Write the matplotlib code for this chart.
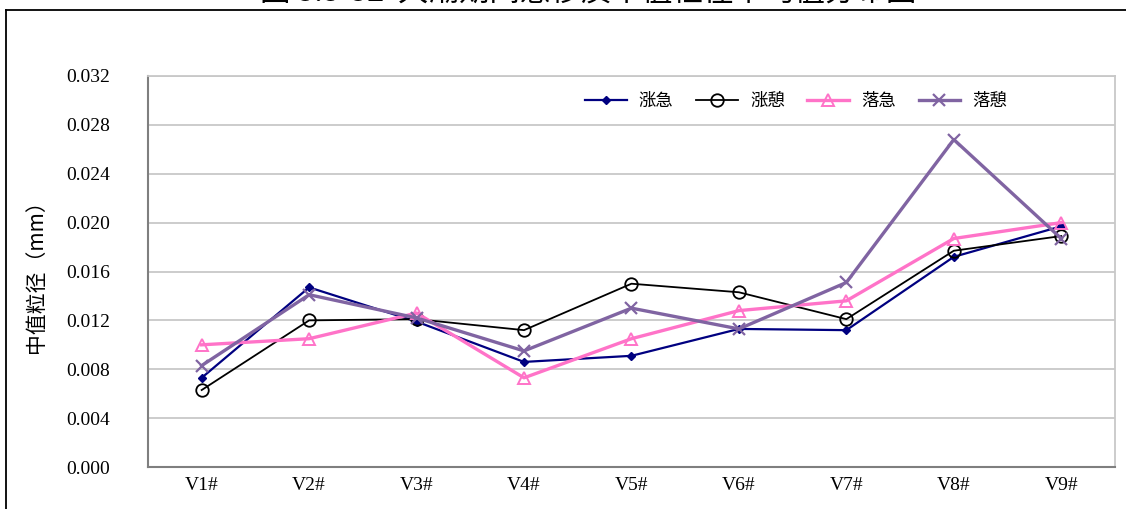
import matplotlib
matplotlib.use('Agg')
import matplotlib.pyplot as plt
from matplotlib.lines import Line2D
from matplotlib.ticker import FuncFormatter

plt.rcParams['font.family'] = ['Noto Sans CJK SC', 'DejaVu Sans']

# Stations and median grain size (mm) for each tide phase
stations = ['V1#', 'V2#', 'V3#', 'V4#', 'V5#', 'V6#', 'V7#', 'V8#', 'V9#']
flood_max = [0.0073, 0.0147, 0.0119, 0.0086, 0.0091, 0.0113, 0.0112, 0.0172, 0.0197]
flood_slack = [0.0063, 0.0120, 0.0121, 0.0112, 0.0150, 0.0143, 0.0121, 0.0177, 0.0189]
ebb_max = [0.0100, 0.0105, 0.0126, 0.0073, 0.0105, 0.0128, 0.0136, 0.0187, 0.0200]
ebb_slack = [0.0083, 0.0141, 0.0122, 0.0095, 0.0130, 0.0113, 0.0151, 0.0268, 0.0187]

series_names = ['涨急', '涨憩', '落急', '落憩']
title_text = '图 3.3-32  大潮期间悬移质中值粒径平均值分布图'
y_label = '中值粒径（mm）'
y_ticks = [0.000, 0.004, 0.008, 0.012, 0.016, 0.020, 0.024, 0.028, 0.032]

serif = ['Liberation Serif', 'DejaVu Serif']

fig = plt.figure(figsize=(11.26, 5.09), dpi=100)
ax = fig.add_axes([0.1314, 0.0825, 0.8588, 0.7682])

x = range(len(stations))
ax.plot(x, flood_max, color='#000080', lw=1.6, marker='D', ms=4.5,
        mfc='#000080', mec='#000080', label=series_names[0], zorder=3)
ax.plot(x, flood_slack, color='black', lw=1.3, marker='o', ms=9,
        mfc='none', mec='black', mew=1.3, label=series_names[1], zorder=3)
ax.plot(x, ebb_max, color='#FF73C8', lw=2.4, marker='^', ms=9,
        mfc='none', mec='#FF73C8', mew=1.4, label=series_names[2], zorder=3)
ax.plot(x, ebb_slack, color='#8064A2', lw=2.4, marker='x', ms=9,
        mec='#8064A2', mew=1.6, label=series_names[3], zorder=3)

ax.set_xlim(-0.5, len(stations) - 0.5)
ax.set_ylim(0, 0.032)
ax.set_xticks(list(x))
ax.set_xticklabels(stations, fontfamily=serif, fontsize=14)
ax.set_yticks(y_ticks)
ax.yaxis.set_major_formatter(FuncFormatter(lambda v, _: f'{v:.3f}'))
for lab in ax.get_yticklabels():
    lab.set_fontfamily(serif)
    lab.set_fontsize(14)
ax.tick_params(axis='y', length=0, pad=27)
ax.tick_params(axis='x', length=0, pad=7)

ax.grid(axis='y', color='#c8c8c8', lw=1.3)
ax.set_axisbelow(True)
for side in ['top', 'right']:
    ax.spines[side].set_color('#c8c8c8')
    ax.spines[side].set_linewidth(1.3)
for side in ['left', 'bottom']:
    ax.spines[side].set_color('#7f7f7f')
    ax.spines[side].set_linewidth(1.5)

ax.set_ylabel(y_label, fontsize=15)
ax.yaxis.set_label_coords(-0.104, 0.5)

ax.legend(loc='center', bbox_to_anchor=(0.707, 0.8016), bbox_transform=fig.transFigure,
          ncol=4, frameon=False, fontsize=12.5, handlelength=2.4,
          handletextpad=0.7, columnspacing=1.3)

# outer chart frame, running off the right and bottom edges
fig.add_artist(Line2D([6 / 1126, 6 / 1126], [-0.05, 1 - 10 / 509],
                      color='black', lw=1.3, transform=fig.transFigure))
fig.add_artist(Line2D([6 / 1126, 1.05], [1 - 10 / 509, 1 - 10 / 509],
                      color='black', lw=1.3, transform=fig.transFigure))

# figure caption sits above the frame and is cut by the top edge
fig.text(0.522, 1 - 8 / 509, title_text, ha='center', va='bottom', fontsize=22)

fig.savefig('out.png', dpi=100)
